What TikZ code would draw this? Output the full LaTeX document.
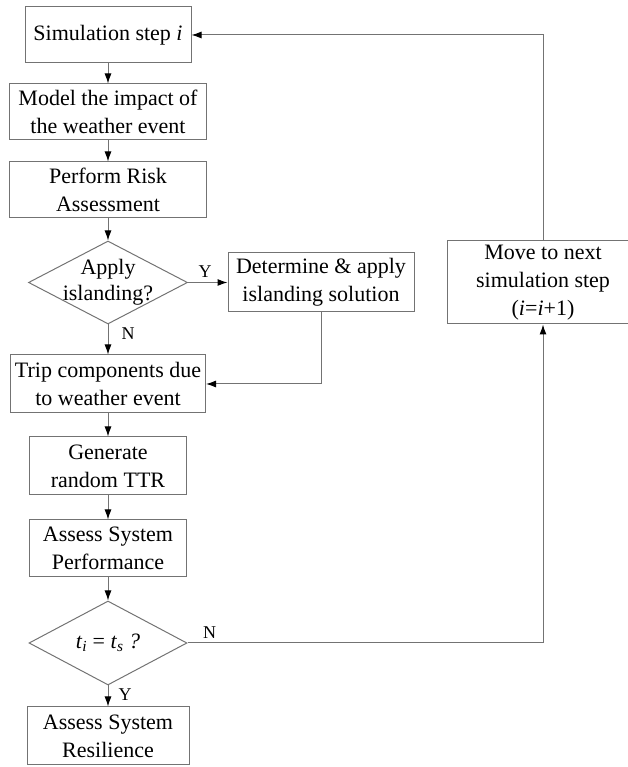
\documentclass[tikz,border=0pt]{standalone}
\usepackage{fontspec}
\setmainfont{Liberation Serif}
\usetikzlibrary{arrows,arrows.meta,calc,positioning,shapes.geometric}
\tikzstyle{block} = [rectangle, draw=black!55, line width=1pt, align=center, font=\fontsize{22}{28}\selectfont, minimum height=56pt, inner sep=0pt]
\tikzstyle{decision} = [diamond, draw=black!55, line width=1pt, minimum width=159pt, minimum height=83pt, inner sep=0pt]
\tikzstyle{dtext} = [align=center, font=\fontsize{22}{26}\selectfont, inner sep=0pt]
\tikzstyle{yn} = [font=\fontsize{18}{20}\selectfont, inner sep=0pt]
\tikzstyle{arrow} = [line width=1pt, draw=black!55, -{Latex[length=10pt,width=7pt,black]}]

\begin{document}
\begin{tikzpicture}[x=1pt,y=1pt]
\useasboundingbox (0,0) rectangle (627,767);
% main column
\draw (108,732) node (sim) [block, minimum width=166pt] {Simulation step \textit{i}};
\draw (108,655) node (model) [block, minimum width=197pt] {Model the impact of\\the weather event};
\draw (108,577) node (risk) [block, minimum width=197pt] {Perform Risk\\Assessment};
\draw (108,484.5) node (apply) [decision, label={[dtext]center:{Apply\\islanding?}}] {};
\draw (321,484.5) node (det) [block, minimum width=186pt, minimum height=59pt] {Determine \& apply\\islanding solution};
\draw (108,383) node (trip) [block, minimum width=195pt, minimum height=58pt] {Trip components due\\to weather event};
\draw (108,301) node (gen) [block, minimum width=157pt, minimum height=58pt] {Generate\\random TTR};
\draw (108,218.5) node (perf) [block, minimum width=157pt, minimum height=57pt] {Assess System\\Performance};
\draw (108,124) node (check) [decision, minimum width=158pt, minimum height=84pt, label={[dtext]center:{\textit{t}\textsubscript{\textit{i}} = \textit{t}\textsubscript{\textit{s}} \textit{?}}}] {};
\draw (108,31) node (res) [block, minimum width=162pt, minimum height=58pt] {Assess System\\Resilience};
% loop back
\draw (543,484.5) node (move) [block, minimum width=192pt, minimum height=83pt] {Move to next\\simulation step\\(\textit{i}=\textit{i}+1)};
%
\draw [arrow] (sim)--(model);
\draw [arrow] (model)--(risk);
\draw [arrow] (risk)--(apply);
\draw [arrow] (apply.east) node [yn, above right=4pt and 10pt] {Y} -- (det);
\draw [arrow] (apply.south) node [yn, below right=3pt and 13pt] {N} -- (trip);
\draw [arrow] (det.south) |- (trip.east);
\draw [arrow] (trip)--(gen);
\draw [arrow] (gen)--(perf);
\draw [arrow] (perf)--(check);
\draw [arrow] (check.south) node [yn, below right=3pt and 10pt] {Y} -- (res);
\draw [arrow] (check.east) node [yn, above right=4pt and 15pt] {N} -| (move.south);
\draw [arrow] (move.north) |- (sim.east);
\end{tikzpicture}
\end{document}
